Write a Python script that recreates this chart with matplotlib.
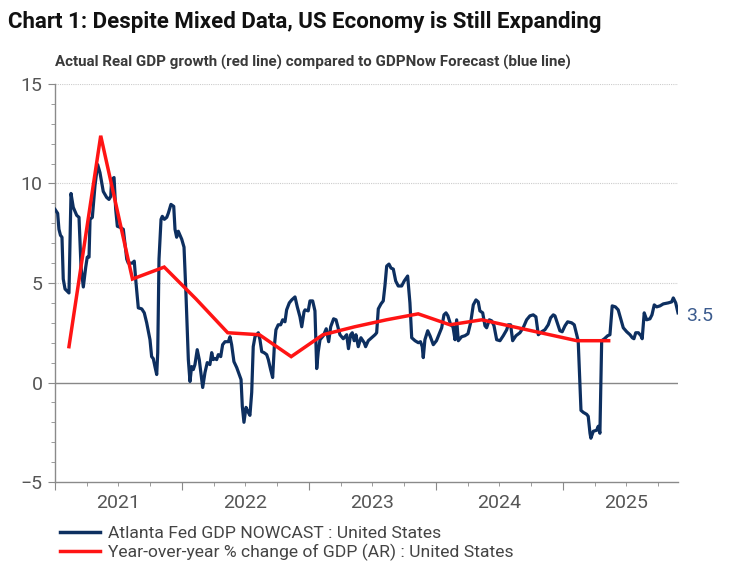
import numpy as np
import matplotlib
matplotlib.use("Agg")
import matplotlib.pyplot as plt
from matplotlib import font_manager as fm
from matplotlib.lines import Line2D
import matplotlib.transforms as mtrans

names = {f.name for f in fm.fontManager.ttflist}
COND = 'Liberation Sans Narrow' if 'Liberation Sans Narrow' in names else 'Roboto'
plt.rcParams['font.family'] = [COND, 'DejaVu Sans']

# ---------------- data ----------------
title = "Chart 1: Despite Mixed Data, US Economy is Still Expanding"
subtitle = "Actual Real GDP growth (red line) compared to GDPNow Forecast (blue line)"
blue_label = "Atlanta Fed GDP NOWCAST : United States"
red_label = "Year-over-year % change of GDP (AR) : United States"
year_labels = ["2021", "2022", "2023", "2024", "2025"]
last_label = "3.5"

# GDPNow (time as decimal year)
nowcast_t = [
    2021.000, 2021.021, 2021.031, 2021.043, 2021.055, 2021.065, 2021.079, 2021.110,
    2021.126, 2021.144, 2021.171, 2021.189, 2021.205, 2021.223, 2021.242, 2021.254,
    2021.268, 2021.276, 2021.294, 2021.315, 2021.336, 2021.354, 2021.380, 2021.407,
    2021.425, 2021.439, 2021.446, 2021.465, 2021.478, 2021.491, 2021.512, 2021.538,
    2021.551, 2021.565, 2021.577, 2021.609, 2021.624, 2021.638, 2021.656, 2021.683,
    2021.703, 2021.722, 2021.748, 2021.761, 2021.774, 2021.787, 2021.801, 2021.809,
    2021.819, 2021.835, 2021.845, 2021.861, 2021.880, 2021.892, 2021.913, 2021.935,
    2021.945, 2021.958, 2021.971, 2021.998, 2022.016, 2022.031, 2022.050, 2022.063,
    2022.076, 2022.089, 2022.102, 2022.120, 2022.136, 2022.155, 2022.163, 2022.181,
    2022.199, 2022.220, 2022.234, 2022.246, 2022.260, 2022.273, 2022.286, 2022.305,
    2022.320, 2022.339, 2022.365, 2022.378, 2022.391, 2022.409, 2022.431, 2022.451,
    2022.465, 2022.475, 2022.488, 2022.504, 2022.522, 2022.535, 2022.549, 2022.561,
    2022.575, 2022.601, 2022.614, 2022.628, 2022.646, 2022.667, 2022.680, 2022.698,
    2022.714, 2022.727, 2022.740, 2022.758, 2022.777, 2022.793, 2022.811, 2022.824,
    2022.845, 2022.864, 2022.890, 2022.908, 2022.929, 2022.943, 2022.961, 2022.969,
    2022.994, 2023.008, 2023.029, 2023.047, 2023.061, 2023.073, 2023.087, 2023.113,
    2023.136, 2023.155, 2023.171, 2023.194, 2023.213, 2023.244, 2023.270, 2023.297,
    2023.311, 2023.328, 2023.341, 2023.356, 2023.370, 2023.388, 2023.409, 2023.435,
    2023.446, 2023.467, 2023.494, 2023.520, 2023.533, 2023.546, 2023.567, 2023.585,
    2023.598, 2023.612, 2023.630, 2023.646, 2023.664, 2023.683, 2023.703, 2023.730,
    2023.750, 2023.777, 2023.795, 2023.809, 2023.835, 2023.861, 2023.878, 2023.892,
    2023.900, 2023.913, 2023.935, 2023.953, 2023.979, 2024.004, 2024.045, 2024.063,
    2024.079, 2024.094, 2024.116, 2024.134, 2024.150, 2024.163, 2024.176, 2024.202,
    2024.228, 2024.252, 2024.273, 2024.294, 2024.315, 2024.333, 2024.346, 2024.368,
    2024.386, 2024.399, 2024.420, 2024.439, 2024.457, 2024.478, 2024.504, 2024.530,
    2024.557, 2024.569, 2024.588, 2024.604, 2024.630, 2024.661, 2024.687, 2024.714,
    2024.740, 2024.766, 2024.787, 2024.806, 2024.832, 2024.858, 2024.884, 2024.903,
    2024.924, 2024.937, 2024.958, 2024.976, 2024.994, 2025.016, 2025.037, 2025.068,
    2025.089, 2025.108, 2025.120, 2025.142, 2025.160, 2025.187, 2025.199, 2025.213,
    2025.220, 2025.239, 2025.265, 2025.278, 2025.291, 2025.305, 2025.327, 2025.352,
    2025.370, 2025.388, 2025.413, 2025.435, 2025.457, 2025.475, 2025.502, 2025.528,
    2025.546, 2025.559, 2025.573, 2025.594, 2025.614, 2025.624, 2025.640, 2025.659,
    2025.685, 2025.701, 2025.719, 2025.738, 2025.764, 2025.790, 2025.829, 2025.856,
    2025.869, 2025.888, 2025.906,
]
nowcast_v = [
    8.7, 8.5, 7.7, 7.4, 7.3, 5.2, 4.7, 4.5,
    9.5, 8.8, 8.4, 8.3, 5.8, 4.8, 5.8, 6.3,
    6.3, 8.2, 8.3, 9.9, 10.95, 10.55, 9.6, 9.3,
    9.2, 9.35, 10.2, 10.3, 8.7, 7.85, 7.8, 7.7,
    7.0, 6.2, 6.0, 6.0, 6.1, 5.0, 3.75, 3.7,
    3.5, 3.0, 2.15, 1.3, 1.2, 0.8, 0.4, 1.5,
    6.2, 8.2, 8.35, 8.2, 8.3, 8.5, 8.95, 8.85,
    7.7, 7.3, 7.6, 7.2, 6.8, 4.5, 1.15, 0.05,
    0.8, 0.65, 0.9, 1.65, 1.15, 0.15, -0.25, 0.5,
    1.0, 0.9, 1.5, 1.15, 1.2, 1.15, 1.4, 1.3,
    1.9, 2.05, 2.05, 2.3, 1.9, 1.05, 0.75, 0.4,
    0.15, -1.2, -2.0, -1.25, -1.5, -1.65, -0.5, 1.8,
    2.3, 2.5, 2.15, 1.55, 1.5, 1.4, 1.15, 0.65,
    0.25, 1.8, 2.65, 2.9, 2.9, 3.15, 3.05, 3.65,
    4.0, 4.15, 4.3, 3.8, 3.3, 2.8, 3.55, 3.65,
    3.6, 4.1, 4.1, 3.6, 0.7, 1.55, 2.15, 2.35,
    2.7, 2.05, 2.8, 3.2, 3.15, 2.4, 2.2, 2.4,
    1.7, 2.4, 2.5, 2.1, 2.4, 1.8, 2.25, 2.0,
    1.8, 2.1, 2.25, 2.4, 2.5, 3.7, 3.95, 4.1,
    4.85, 5.85, 5.95, 5.75, 5.7, 5.1, 4.85, 4.85,
    5.1, 5.35, 4.0, 2.25, 2.1, 2.0, 2.05, 1.8,
    1.25, 2.15, 2.6, 2.35, 1.9, 2.1, 2.75, 3.4,
    3.5, 3.35, 2.9, 2.8, 2.15, 3.15, 2.1, 2.3,
    2.35, 2.45, 3.0, 3.9, 4.15, 4.05, 3.6, 3.5,
    2.85, 2.75, 3.15, 3.1, 2.85, 2.15, 2.1, 2.35,
    2.65, 2.9, 2.9, 2.1, 2.35, 2.5, 2.75, 3.15,
    3.35, 3.4, 3.3, 2.4, 2.55, 2.65, 2.9, 3.25,
    3.4, 3.35, 2.95, 2.6, 2.55, 2.85, 3.05, 3.0,
    2.9, 2.4, 2.1, -1.4, -1.5, -1.6, -1.7, -2.55,
    -2.8, -2.45, -2.4, -2.2, -2.55, 2.1, 2.2, 2.35,
    2.4, 3.85, 3.8, 3.65, 3.15, 2.75, 2.55, 2.4,
    2.25, 2.2, 2.5, 2.5, 2.35, 2.2, 3.5, 3.15,
    3.2, 3.4, 3.9, 3.8, 3.85, 3.95, 4.0, 4.05,
    4.25, 4.0, 3.5,
]

# Real GDP y/y, quarterly
gdp_quarters = ["2021Q1", "2021Q2", "2021Q3", "2021Q4", "2022Q1", "2022Q2",
                "2022Q3", "2022Q4", "2023Q1", "2023Q2", "2023Q3", "2023Q4",
                "2024Q1", "2024Q2", "2024Q3", "2024Q4", "2025Q1", "2025Q2"]
gdp_yoy = [1.8, 12.4, 5.2, 5.8, 4.2, 2.5, 2.4, 1.3, 2.4, 2.8, 3.15, 3.45,
           2.9, 3.15, 2.8, 2.45, 2.1, 2.1]

# ---------------- plot ----------------
BLUE = '#0d2f60'
RED = '#ff1414'
GRAY = '#555555'

fig = plt.figure(figsize=(7.5, 5.78), dpi=100)
ax = fig.add_axes([55/750, 1-482/578, (678-55)/750, (482-84)/578])

gdp_t = [int(q[:4]) + (int(q[-1]) - 1) * 0.25 + 0.11 for q in gdp_quarters]

ax.plot(nowcast_t, nowcast_v, color=BLUE, lw=2.3, solid_joinstyle='round', zorder=3)
ax.plot(gdp_t, gdp_yoy, color=RED, lw=2.5, solid_joinstyle='miter', zorder=4)

ax.set_xlim(2021.0, 2025.906)
ax.set_ylim(-5, 15)

# grid
for yv in [5, 10, 15]:
    ax.axhline(yv, color='#cccccc', lw=0.8, ls=(0, (1, 1)), zorder=1)
ax.axhline(0, color='#888888', lw=1.0, zorder=2)

for s in ['top', 'right']:
    ax.spines[s].set_visible(False)
for s in ['left', 'bottom']:
    ax.spines[s].set_color('#8a8a8a')
    ax.spines[s].set_linewidth(1.0)

ax.set_yticks([-5, 0, 5, 10, 15])
ax.set_yticks(np.arange(-5, 16, 1), minor=True)
ax.tick_params(axis='y', which='major', length=5, color='#8a8a8a', labelsize=14,
               labelcolor=GRAY, pad=4)
ax.tick_params(axis='y', which='minor', length=3, color='#8a8a8a')

years = [2021, 2022, 2023, 2024, 2025]
ax.set_xticks(years)
ax.set_xticklabels([''] * len(years))
ax.set_xticks(np.arange(2021, 2025.91, 0.25), minor=True)
ax.tick_params(axis='x', which='major', length=6, color='#8a8a8a')
ax.tick_params(axis='x', which='minor', length=3, color='#8a8a8a')

trans = mtrans.blended_transform_factory(ax.transData, ax.transAxes)
for y, lab in zip(years, year_labels):
    ax.text(y + 0.5, -0.03, lab, transform=trans, ha='center', va='top',
            fontsize=14, color=GRAY)

# last value label
ax.annotate(last_label, xy=(nowcast_t[-1], nowcast_v[-1]), xytext=(6, -2.5),
            textcoords='offset points', ha='left', va='center', fontsize=14,
            color='#3b5b8e', annotation_clip=False)

fig.text(8/750, 1-22/578, title, fontsize=16, fontweight='bold', color='#111111',
         ha='left', va='center')
fig.text(55/750, 1-62/578, subtitle, fontsize=10.9, fontweight='bold', color='#3a3a3a',
         ha='left', va='center')

handles = [Line2D([], [], color=BLUE, lw=2.5), Line2D([], [], color=RED, lw=2.5)]
fig.legend(handles, [blue_label, red_label], loc='upper left',
           bbox_to_anchor=(60/750, 1-526/578), frameon=False, fontsize=12.6,
           handlelength=2.3, handletextpad=0.42, labelspacing=0.15,
           borderpad=0, borderaxespad=0, labelcolor='#444444')

fig.savefig('out.png', dpi=100)
